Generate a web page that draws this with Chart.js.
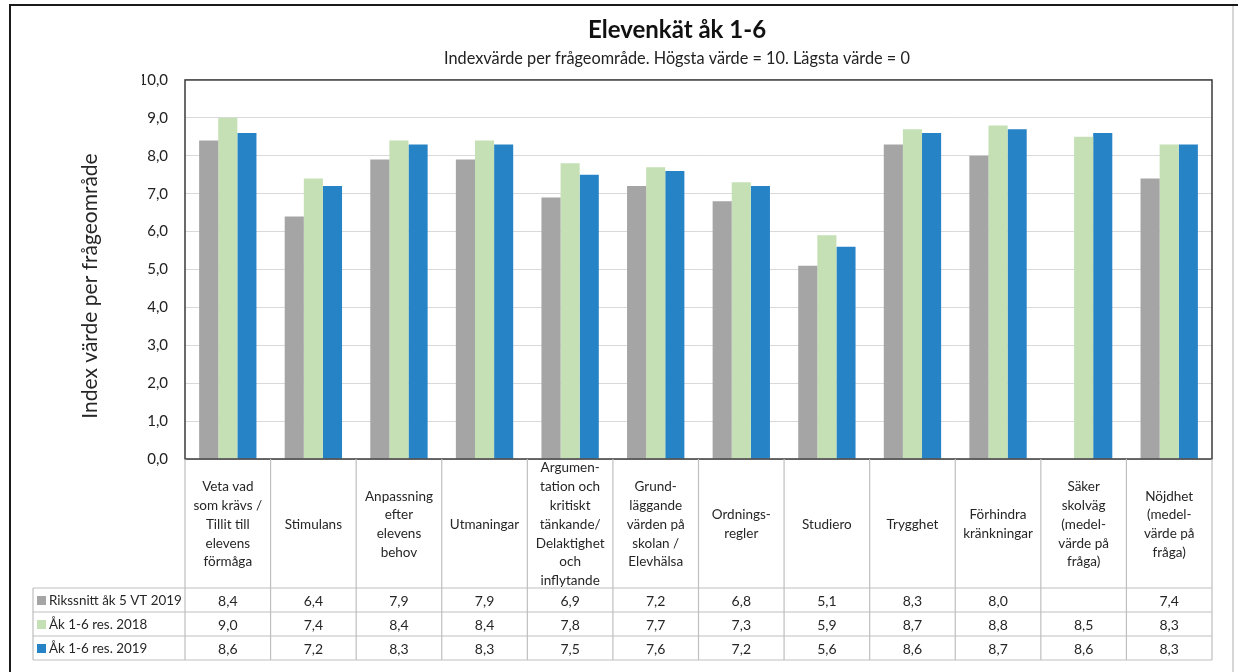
<!DOCTYPE html>
<html>
<head>
<meta charset="utf-8">
<title>Elevenkät åk 1-6</title>
<script src="https://cdn.jsdelivr.net/npm/chart.js@4.4.1/dist/chart.umd.min.js"></script>
<style>
  html, body { margin: 0; padding: 0; background: #fff; }
  #wrap { width: 1238px; height: 672px; }
</style>
</head>
<body>
<div id="wrap"><canvas id="elevChart" width="1238" height="672"></canvas></div>
<script>
// Category labels (one entry per line in the table header)
const categories = [
  ["Veta vad", "som krävs /", "Tillit till", "elevens", "förmåga"],
  ["Stimulans"],
  ["Anpassning", "efter", "elevens", "behov"],
  ["Utmaningar"],
  ["Argumen-", "tation och", "kritiskt", "tänkande/", "Delaktighet", "och", "inflytande"],
  ["Grund-", "läggande", "värden på", "skolan /", "Elevhälsa"],
  ["Ordnings-", "regler"],
  ["Studiero"],
  ["Trygghet"],
  ["Förhindra", "kränkningar"],
  ["Säker", "skolväg", "(medel-", "värde på", "fråga)"],
  ["Nöjdhet", "(medel-", "värde på", "fråga)"]
];

const seriesNames = ["Rikssnitt åk 5 VT 2019", "Åk 1-6 res. 2018", "Åk 1-6 res. 2019"];
const riksValues = [8.4, 6.4, 7.9, 7.9, 6.9, 7.2, 6.8, 5.1, 8.3, 8.0, null, 7.4];
const res2018 = [9.0, 7.4, 8.4, 8.4, 7.8, 7.7, 7.3, 5.9, 8.7, 8.8, 8.5, 8.3];
const res2019 = [8.6, 7.2, 8.3, 8.3, 7.5, 7.6, 7.2, 5.6, 8.6, 8.7, 8.6, 8.3];
const seriesColors = ["#a5a5a5", "#c5e0b4", "#2683c6"];

const FONT = "Lato";
const fmt = v => (v === null || v === undefined) ? "" : v.toFixed(1).replace(".", ",");

// Frame, plot border, y title and the data table under the plot
const tablePlugin = {
  id: "dataTable",
  afterDraw(chart) {
    const ctx = chart.ctx;
    const area = chart.chartArea;
    const x = chart.scales.x;
    const n = categories.length;
    const colW = (area.right - area.left) / n;
    const headBottom = area.bottom + 129;
    const rowH = 24;
    const legendLeft = 33;
    const tableBottom = headBottom + rowH * seriesNames.length;
    const rows = [riksValues, res2018, res2019];

    ctx.save();

    // outer frame
    ctx.strokeStyle = "#1a1a1a";
    ctx.lineWidth = 2;
    ctx.beginPath();
    ctx.moveTo(10, 672);
    ctx.lineTo(10, 5);
    ctx.lineTo(1238, 5);
    ctx.stroke();
    ctx.strokeStyle = "#c8c8c8";
    ctx.lineWidth = 1.5;
    ctx.beginPath();
    ctx.moveTo(1233, 6);
    ctx.lineTo(1233, 672);
    ctx.stroke();

    // table grid
    ctx.strokeStyle = "#bfbfbf";
    ctx.lineWidth = 1.2;
    ctx.beginPath();
    for (let i = 0; i <= n; i++) {
      const cx = area.left + i * colW;
      ctx.moveTo(cx, area.bottom);
      ctx.lineTo(cx, tableBottom);
    }
    for (let r = 0; r <= seriesNames.length; r++) {
      const y = headBottom + r * rowH;
      ctx.moveTo(legendLeft, y);
      ctx.lineTo(area.right, y);
    }
    ctx.moveTo(legendLeft, headBottom);
    ctx.lineTo(legendLeft, tableBottom);
    ctx.stroke();

    // category header text
    ctx.fillStyle = "#262626";
    ctx.textAlign = "center";
    ctx.textBaseline = "middle";
    ctx.font = "13.5px " + FONT;
    const lh = 18.8;
    const headMid = (area.bottom + headBottom) / 2 + 1;
    categories.forEach((lines, i) => {
      const cx = x.getPixelForValue(i);
      const y0 = headMid - (lines.length - 1) * lh / 2;
      lines.forEach((t, k) => ctx.fillText(t, cx, y0 + k * lh));
    });

    // value rows + legend keys
    rows.forEach((vals, r) => {
      const y = headBottom + r * rowH + rowH / 2 + 1;
      ctx.font = "14px " + FONT;
      ctx.textAlign = "center";
      vals.forEach((v, i) => ctx.fillText(fmt(v), x.getPixelForValue(i), y));
      ctx.fillStyle = seriesColors[r];
      ctx.fillRect(legendLeft + 4, y - 5, 9, 9);
      ctx.fillStyle = "#262626";
      ctx.textAlign = "left";
      ctx.font = "13.4px " + FONT;
      ctx.fillText(seriesNames[r], legendLeft + 16, y);
    });

    // y axis title
    ctx.translate(90, 286);
    ctx.rotate(-Math.PI / 2);
    ctx.textAlign = "center";
    ctx.font = "21px " + FONT;
    ctx.fillStyle = "#262626";
    ctx.fillText("Index värde per frågeområde", 0, 0);
    ctx.restore();
  },
  afterDatasetsDraw(chart) {
    const ctx = chart.ctx;
    const a = chart.chartArea;
    ctx.save();
    ctx.strokeStyle = "#3a3a3a";
    ctx.lineWidth = 1.5;
    ctx.strokeRect(a.left, a.top, a.right - a.left, a.bottom - a.top);
    ctx.restore();
  }
};

const ctx = document.getElementById("elevChart").getContext("2d");
new Chart(ctx, {
  type: "bar",
  data: {
    labels: categories,
    datasets: [
      { label: seriesNames[0], data: riksValues, backgroundColor: seriesColors[0] },
      { label: seriesNames[1], data: res2018, backgroundColor: seriesColors[1] },
      { label: seriesNames[2], data: res2019, backgroundColor: seriesColors[2] }
    ]
  },
  options: {
    responsive: false,
    animation: false,
    // left padding shifts the title centre to match the original
    layout: { padding: { left: 142, right: 26, top: 0, bottom: 213 } },
    datasets: {
      bar: { barPercentage: 1, categoryPercentage: 0.67 }
    },
    plugins: {
      legend: { display: false },
      tooltip: { enabled: false },
      title: {
        display: true,
        text: "Elevenkät åk 1-6",
        color: "#111",
        font: { family: FONT, size: 24, weight: "bold" },
        padding: { top: 15.6, bottom: 0 }
      },
      subtitle: {
        display: true,
        text: "Indexvärde per frågeområde. Högsta värde = 10. Lägsta värde = 0",
        color: "#222",
        font: { family: FONT, size: 16.3 },
        padding: { top: 4.8, bottom: 11.2 }
      }
    },
    scales: {
      x: { display: false },
      y: {
        min: 0,
        max: 10,
        afterFit: scale => { scale.width = 43; },
        ticks: {
          stepSize: 1,
          padding: 17,
          color: "#222",
          font: { family: FONT, size: 15 },
          callback: v => fmt(v)
        },
        grid: { color: "#d9d9d9", drawTicks: false },
        border: { display: false }
      }
    }
  },
  plugins: [tablePlugin]
});
</script>
</body>
</html>
